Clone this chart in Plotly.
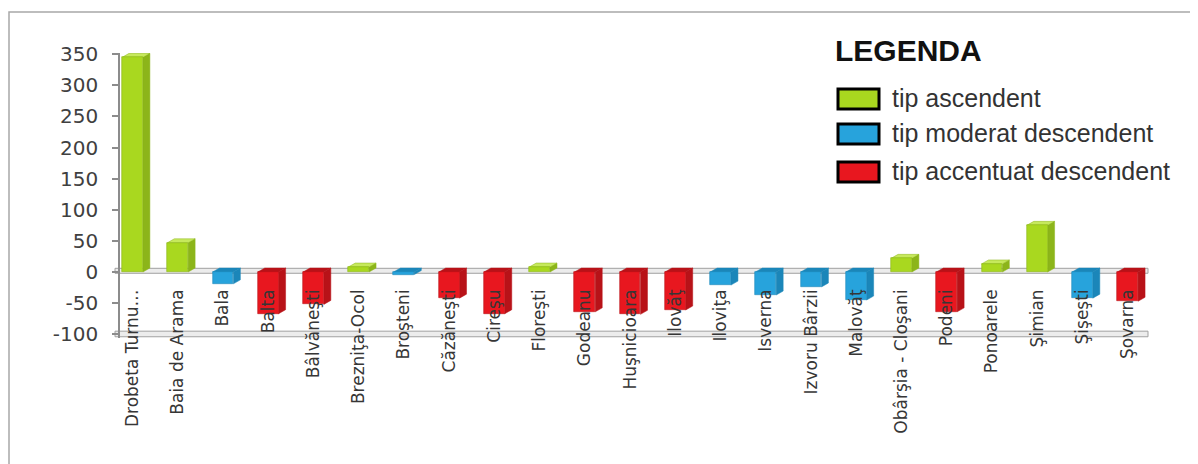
import plotly.graph_objects as go

# ---------------- data ----------------
categories = ["Drobeta Turnu…", "Baia de Arama", "Bala", "Balta", "Bâlvăneşti",
              "Brezniţa-Ocol", "Broşteni", "Căzăneşti", "Cireşu", "Floreşti",
              "Godeanu", "Huşnicioara", "Ilovăţ", "Iloviţa", "Isverna",
              "Izvoru Bârzii", "Malovăţ", "Obârşia - Cloşani", "Podeni",
              "Ponoarele", "Şimian", "Şişeşti", "Şovarna"]
values = [345, 47, -19, -67, -52, 8, -4, -42, -67, 8, -64, -68, -61, -21, -37,
          -24, -45, 22, -64, 13, 75, -42, -47]
types = ["asc", "asc", "mod", "acc", "acc", "asc", "mod", "acc", "acc", "asc",
         "acc", "acc", "acc", "mod", "mod", "mod", "mod", "asc", "acc", "asc",
         "asc", "mod", "acc"]
type_order = ["asc", "mod", "acc"]
type_labels = ["tip ascendent", "tip moderat descendent", "tip accentuat descendent"]
legend_title = "LEGENDA"
y_ticks = [-100, -50, 0, 50, 100, 150, 200, 250, 300, 350]
y_tick_labels = ["-100", "-50", "0", "50", "100", "150", "200", "250", "300", "350"]

# ---------------- style ----------------
FRONT = {"asc": "#a9d81f", "mod": "#27a3dc", "acc": "#e8171f"}
SIDE = {"asc": "#8cb51a", "mod": "#1b86b9", "acc": "#b81218"}
TOP = {"asc": "#c6e95c", "mod": "#5cbbe6", "acc": "#f04a50"}

OFF = 8                      # page body margin
W_PX, H_PX = 1198 - OFF, 464 - OFF
L, R, T, B = 120 - OFF, 50, 53 - OFF, 126
PW = W_PX - L - R
PH = H_PX - T - B
X_RANGE = [-0.276, 22.45]
Y_RANGE = [-106, 352]
BAR_W = 0.46
DX = 7 / (PW / (X_RANGE[1] - X_RANGE[0]))   # depth in x units (7 px)
DY = 4 / (PH / (Y_RANGE[1] - Y_RANGE[0]))   # depth in y units (4 px)


def px_x(px):   # page pixel -> paper x
    return (px - OFF - L) / PW


def px_y(py):   # page pixel -> paper y
    return (H_PX - B - (py - OFF)) / PH


fig = go.Figure()
shapes = []

# outer frame
shapes.append(dict(type="rect", xref="paper", yref="paper",
                   x0=px_x(9), x1=px_x(1192), y0=px_y(12), y1=px_y(490),
                   line=dict(color="#a8a8a8", width=1.5), fillcolor="rgba(0,0,0,0)",
                   layer="below"))
# floors (zero plane and bottom plane)
for y0, y1 in [(-2, 6), (-104, -95)]:
    shapes.append(dict(type="rect", xref="paper", yref="y",
                       x0=px_x(115), x1=px_x(1148), y0=y0, y1=y1,
                       line=dict(color="#a0a0a0", width=1), fillcolor="#ececec",
                       layer="below"))

# 3D side and top faces computed from the data
for i, (v, t) in enumerate(zip(values, types)):
    xl, xr = i - BAR_W / 2, i + BAR_W / 2
    side = (f"M {xr},0 L {xr},{v} L {xr + DX},{v + DY} L {xr + DX},{DY} Z")
    shapes.append(dict(type="path", xref="x", yref="y", path=side,
                       fillcolor=SIDE[t], line=dict(color=SIDE[t], width=0.5),
                       layer="below"))
    ytop = max(v, 0)
    top = (f"M {xl},{ytop} L {xr},{ytop} L {xr + DX},{ytop + DY} L {xl + DX},{ytop + DY} Z")
    shapes.append(dict(type="path", xref="x", yref="y", path=top,
                       fillcolor=TOP[t] if v >= 0 else SIDE[t],
                       line=dict(color=SIDE[t], width=0.5), layer="below"))

# front faces
for t in type_order:
    xs = [i for i, tt in enumerate(types) if tt == t]
    ys = [values[i] for i in xs]
    fig.add_trace(go.Bar(x=xs, y=ys, width=BAR_W,
                         marker=dict(color=FRONT[t], line=dict(color=SIDE[t], width=0.6)),
                         showlegend=False, hoverinfo="skip"))

# custom legend
annotations = [dict(xref="paper", yref="paper", x=px_x(833), y=px_y(51),
                    xanchor="left", yanchor="middle", showarrow=False,
                    text=f"<b>{legend_title}</b>",
                    font=dict(family="Liberation Sans, Arial", size=30, color="#111111"))]
legend_rows = [99, 134, 172]
for t, lab, yc in zip(type_order, type_labels, legend_rows):
    shapes.append(dict(type="rect", xref="paper", yref="paper",
                       x0=px_x(838), x1=px_x(879), y0=px_y(yc + 10), y1=px_y(yc - 10),
                       line=dict(color="#000000", width=3), fillcolor=FRONT[t]))
    annotations.append(dict(xref="paper", yref="paper", x=px_x(890), y=px_y(yc - 1),
                            xanchor="left", yanchor="middle", showarrow=False,
                            text=lab,
                            font=dict(family="Liberation Sans, Arial", size=25,
                                      color="#333333")))

fig.update_layout(
    width=W_PX, height=H_PX,
    margin=dict(l=L, r=R, t=T, b=B),
    paper_bgcolor="white", plot_bgcolor="white",
    bargap=0,
    shapes=shapes, annotations=annotations,
    xaxis=dict(range=X_RANGE, tickmode="array",
               tickvals=list(range(len(categories))), ticktext=categories,
               tickangle=-90, anchor="free", position=0.186,
               showline=False, showgrid=False, zeroline=False, ticks="",
               tickfont=dict(family="DejaVu Sans", size=17, color="#363636")),
    yaxis=dict(range=Y_RANGE, tickmode="array", tickvals=y_ticks,
               ticktext=y_tick_labels,
               showline=True, linecolor="#8c8c8c", linewidth=1.5,
               ticks="outside", ticklen=6, tickcolor="#8c8c8c", tickwidth=1.5,
               ticklabelstandoff=10,
               showgrid=False, zeroline=False,
               tickfont=dict(family="DejaVu Sans", size=20, color="#404040")),
)

fig.write_html("out.html")
